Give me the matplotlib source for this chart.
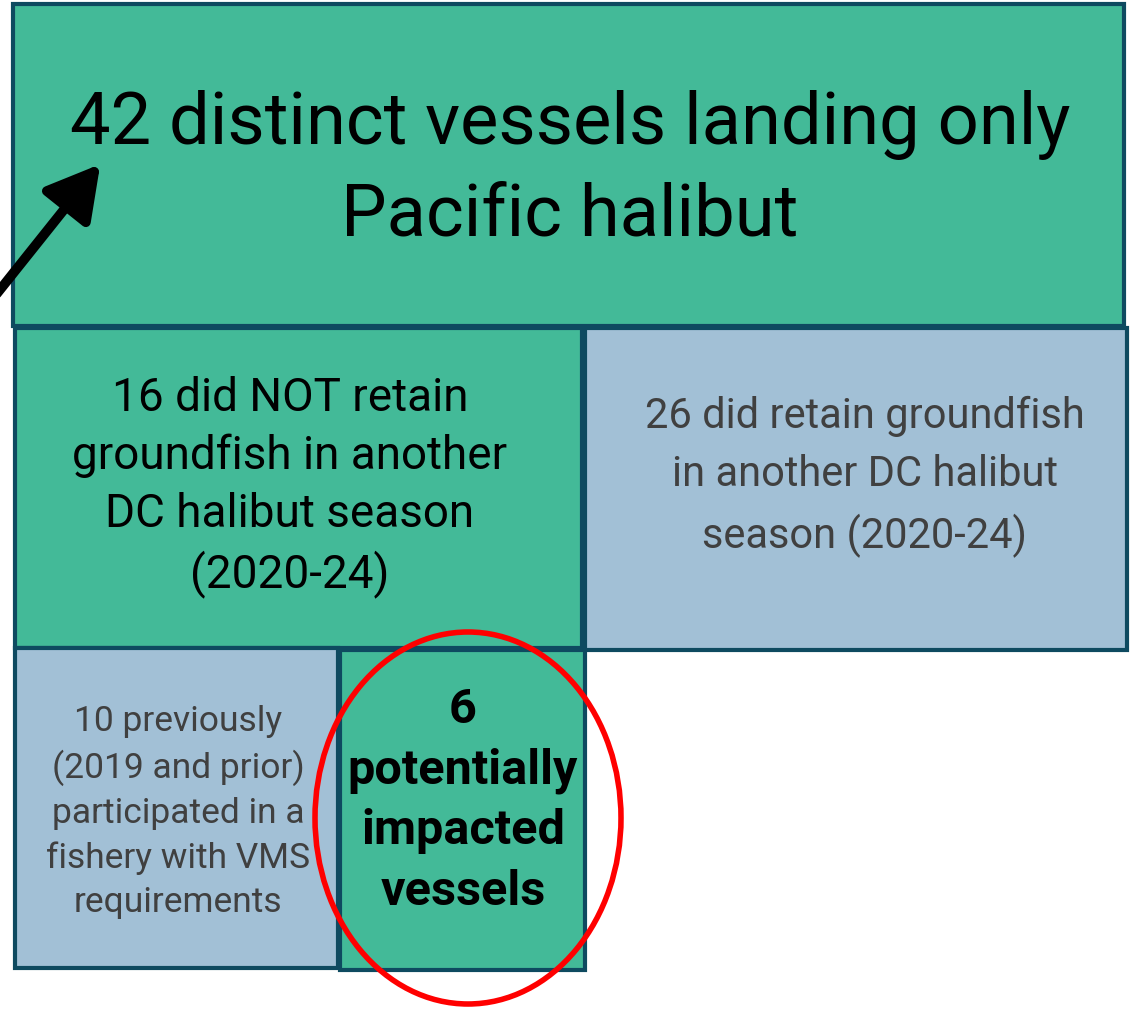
import matplotlib.pyplot as plt
from matplotlib.patches import Rectangle, Ellipse, FancyArrowPatch

# labels of the boxes
labels = [
    "42 distinct vessels landing only\nPacific halibut",
    "16 did NOT retain\ngroundfish in another\nDC halibut season\n(2020-24)",
    "26 did retain groundfish\nin another DC halibut\nseason (2020-24)",
    "10 previously\n(2019 and prior)\nparticipated in a\nfishery with VMS\nrequirements",
    "6\npotentially\nimpacted\nvessels",
]
counts = [42, 16, 26, 10, 6]

green = "#43BA98"
blue = "#A2C0D6"
edge = "#0E4A60"

# box layout in pixels: x0, y0, x1, y1
boxes = [
    (13, 4, 1124, 326),
    (15, 328, 582, 648),
    (585, 328, 1127, 650),
    (15, 648, 338, 968),
    (340, 650, 585, 970),
]
fills = [green, green, blue, blue, green]
text_colors = ["black", "black", "#404040", "#404040", "black"]
sizes = [52, 33, 30, 25.5, 35]
weights = ["normal", "normal", "normal", "normal", "bold"]
spacing = [1.4, 1.38, 1.55, 1.42, 1.4]
text_pos = [(570, 170), (290, 487), (865, 477), (178, 812), (463, 801)]

fig = plt.figure(figsize=(11.32, 10.10), dpi=100)
ax = fig.add_axes([0, 0, 1, 1])
ax.set_xlim(0, 1132)
ax.set_ylim(1010, 0)
ax.axis("off")

for (x0, y0, x1, y1), fc in zip(boxes, fills):
    ax.add_patch(Rectangle((x0, y0), x1 - x0, y1 - y0, facecolor=fc,
                           edgecolor=edge, linewidth=3, zorder=1))

for lab, (tx, ty), c, s, w, ls in zip(labels, text_pos, text_colors, sizes, weights, spacing):
    ax.text(tx, ty, lab, ha="center", va="center", color=c, fontsize=s,
            fontweight=w, linespacing=ls, family=["Roboto", "DejaVu Sans"], zorder=3)

# red circle round the 6 impacted vessels
ax.add_patch(Ellipse((468, 818), 306, 372, facecolor="none", edgecolor="#FF0000",
                     linewidth=4, zorder=4))

# arrow pointing at the top box
ax.add_patch(FancyArrowPatch((-5, 296), (102, 162), arrowstyle="-|>,head_length=1.6,head_width=0.9",
                             mutation_scale=20, color="black", linewidth=7, zorder=5))

fig.savefig("out.png", dpi=100)
